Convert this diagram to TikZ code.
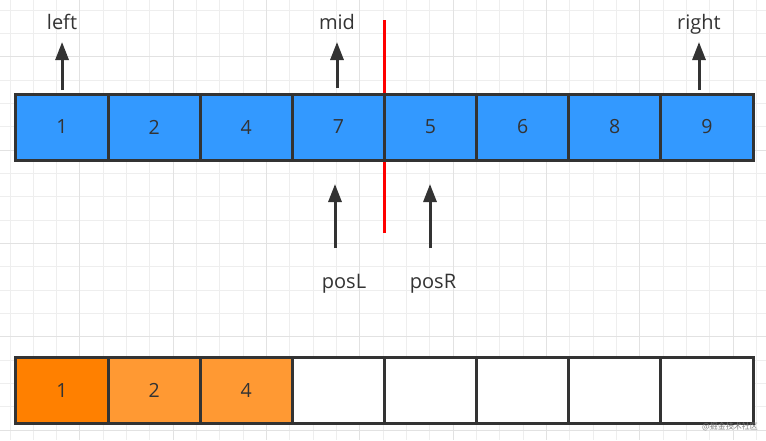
\documentclass[tikz,border=0pt]{standalone}
\usepackage{fontspec}
\setmainfont{Open Sans}
\newfontfamily\cjkfont{Noto Sans CJK SC}
\usetikzlibrary{positioning, arrows.meta}
\pgfdeclarelayer{background}
\pgfsetlayers{background,main}
\definecolor{ink}{HTML}{333333}
\definecolor{cellblue}{HTML}{3399FF}
\definecolor{deeporange}{HTML}{FF8000}
\definecolor{lightorange}{HTML}{FF9933}
\definecolor{gridgray}{HTML}{EEEEEE}
\definecolor{majorgray}{HTML}{E2E2E2}
\tikzstyle{cell} = [rectangle, minimum width=92.125pt, minimum height=66pt, inner sep=0pt, outer sep=0pt, text centered, draw=ink, line width=3pt, text=ink, font=\fontsize{19.5}{19.5}\selectfont]
\tikzstyle{active} = [fill=cellblue]
\tikzstyle{first} = [fill=deeporange]
\tikzstyle{copied} = [fill=lightorange]
\tikzstyle{blank} = [fill=white]
\tikzstyle{tag} = [inner sep=0pt, text=ink, font=\fontsize{20}{20}\selectfont]
\tikzstyle{edge} = [line width=3pt, draw=ink, -{Triangle[width=13pt, length=18pt]}]
\tikzstyle{cut} = [line width=2.5pt, draw=red]
\tikzstyle{gridline} = [line width=1pt, draw=gridgray]
\tikzstyle{majorline} = [line width=1pt, draw=majorgray]

\begin{document}
\begin{tikzpicture}[x=1pt, y=-1pt]
\useasboundingbox (0,0) rectangle (766,440);

% top row
\node (c1) [cell, active] at (62.06,127) {1};
\node (c2) [cell, active, right=0pt of c1] {2};
\node (c3) [cell, active, right=0pt of c2] {4};
\node (c4) [cell, active, right=0pt of c3] {7};
\node (c5) [cell, active, right=0pt of c4] {5};
\node (c6) [cell, active, right=0pt of c5] {6};
\node (c7) [cell, active, right=0pt of c6] {8};
\node (c8) [cell, active, right=0pt of c7] {9};

% bottom row
\node (b1) [cell, first] at (62.06,390.5) {1};
\node (b2) [cell, copied, right=0pt of b1] {2};
\node (b3) [cell, copied, right=0pt of b2] {4};
\node (b4) [cell, blank, right=0pt of b3] {};
\node (b5) [cell, blank, right=0pt of b4] {};
\node (b6) [cell, blank, right=0pt of b5] {};
\node (b7) [cell, blank, right=0pt of b6] {};
\node (b8) [cell, blank, right=0pt of b7] {};

% labels
\node (leftlbl) [tag, anchor=base] at (62,29) {left};
\node (midlbl) [tag, anchor=base] at (337,29) {mid};
\node (rightlbl) [tag, anchor=base] at (699,29) {right};
\node (posLlbl) [tag, anchor=base] at (344,288) {posL};
\node (posRlbl) [tag, anchor=base] at (433,288) {posR};
\coordinate (posLtail) at (335,248);
\coordinate (posRtail) at (430,248);

\draw [edge, shorten <=4pt, shorten >=13pt] (c1.north) -- (c1.north |- leftlbl.base);
\draw [edge, shorten <=6pt, shorten >=13pt] (midlbl.base |- c4.north) -- (midlbl.base);
\draw [edge, shorten <=4pt, shorten >=13pt] (rightlbl.base |- c8.north) -- (rightlbl.base);
\draw [edge, shorten >=24pt] (posLtail) -- (posLtail |- c4.south);
\draw [edge, shorten >=24pt] (posRtail) -- (posRtail |- c5.south);

\node (mark) [text=gray, font=\cjkfont\fontsize{8}{8}\selectfont] at (730,427) {@掘金技术社区};

\begin{pgfonlayer}{background}
\fill [white] (0,0) rectangle (766,440);
\foreach \k in {0,...,32} \draw [gridline] (10+23.333*\k,0) -- (10+23.333*\k,440);
\foreach \k in {0,...,18} \draw [gridline] (0,10+23.333*\k) -- (766,10+23.333*\k);
\foreach \k in {3,7,...,31} \draw [majorline] (10+23.333*\k,0) -- (10+23.333*\k,440);
\foreach \k in {2,6,...,18} \draw [majorline] (0,10+23.333*\k) -- (766,10+23.333*\k);
\draw [cut] ([yshift=74pt]c4.north east) -- ([yshift=-73pt]c4.south east);
\end{pgfonlayer}

\end{tikzpicture}
\end{document}
